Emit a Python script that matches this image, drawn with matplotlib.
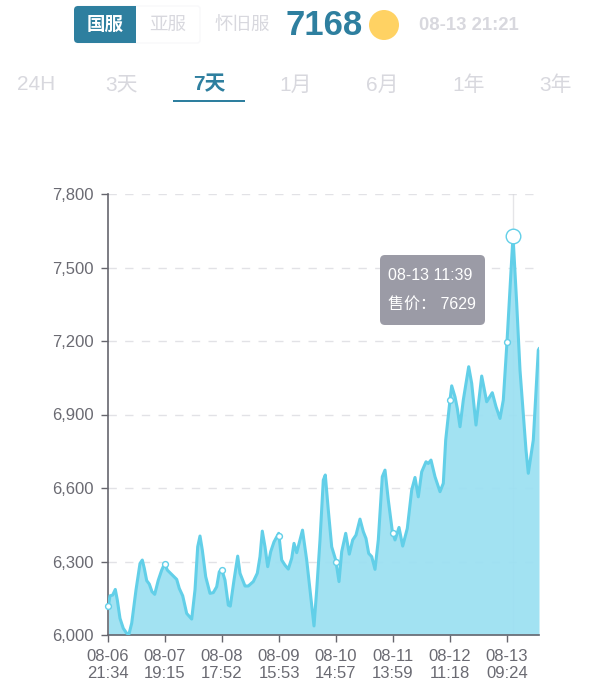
import numpy as np
import matplotlib
matplotlib.use('Agg')
import matplotlib.pyplot as plt
from matplotlib.patches import FancyBboxPatch, Ellipse, Rectangle

plt.rcParams['font.family'] = ['Liberation Sans', 'Noto Sans CJK SC']

# position along the time axis (57 units = one tick step)
pos = [0.3, 2, 4.7, 7.3, 9.3, 12, 15.3, 18.7, 21, 23.7, 28, 32, 34.3, 36.3, 38.7, 41.3, 44, 46.7,
       50.3, 53.7, 56.7, 59.3, 63.7, 68.7, 71.3, 74.7, 78.7, 83.7, 87, 89.7, 92, 94.3, 97.7, 102,
       105.3, 108.7, 111.3, 113.7, 117, 120.3, 122.3, 126, 129.7, 132, 137, 140.3, 145.3, 149.3,
       152, 154.3, 157, 159.7, 162.7, 166, 170.7, 173.7, 177, 180.3, 183.7, 186, 188.7, 194.5,
       198.7, 202, 206, 208.7, 212, 215.3, 217.3, 220.3, 223.7, 227.7, 231, 233.7, 237.7, 241.3,
       244.7, 248, 252, 255.3, 258, 260.7, 263.7, 267, 270.3, 274.3, 277, 280.3, 284.3, 287, 291,
       294.7, 299.3, 303.7, 307, 310.3, 313.7, 318, 320.3, 323, 327, 332, 335.3, 337.7, 342, 343.7,
       347, 349.3, 352, 355.3, 360.7, 363.7, 368, 373.7, 378.7, 384.3, 388, 392, 395.3, 399, 405,
       408.7, 412, 418, 420.3, 425.3, 430.3, 431]
price = [6118, 6160, 6163, 6186, 6143, 6068, 6027, 6007, 6004, 6048, 6184, 6292, 6306, 6272, 6222, 6208, 6177, 6166,
         6224, 6265, 6292, 6265, 6247, 6227, 6190, 6160, 6088, 6065, 6184, 6360, 6404, 6347, 6238, 6170,
         6173, 6197, 6258, 6268, 6224, 6122, 6118, 6224, 6322, 6252, 6200, 6200, 6218, 6252,
         6320, 6424, 6360, 6279, 6340, 6380, 6415, 6306, 6285, 6269, 6313, 6374, 6336, 6428,
         6306, 6184, 6037, 6184, 6388, 6632, 6653, 6510, 6360, 6306, 6218, 6340, 6415, 6330,
         6388, 6408, 6473, 6422, 6394, 6333, 6320, 6268, 6388, 6646, 6673, 6551, 6424, 6388, 6439,
         6363, 6435, 6592, 6643, 6564, 6666, 6707, 6700, 6714, 6646, 6585, 6619, 6796, 6959, 7017,
         6972, 6925, 6850, 6959, 7095, 7027, 6857, 7057, 6952, 6989, 6932, 6884, 6959, 7197, 7629,
         7353, 7081, 6755, 6660, 6796, 7163, 7168]

tick_pos = [0, 57, 114, 171, 228, 285, 342, 399]
tick_labels = ['08-06\n21:34', '08-07\n19:15', '08-08\n17:52', '08-09\n15:53',
               '08-10\n14:57', '08-11\n13:59', '08-12\n11:18', '08-13\n09:24']
y_ticks = [6000, 6300, 6600, 6900, 7200, 7500, 7800]
peak_pos = 405
peak_price = 7629

tabs = ['24H', '3天', '7天', '1月', '6月', '1年', '3年']
tab_x = [36, 122, 209, 296, 382, 469, 556]

W, H = 600, 682
LINE = '#62cfe8'
FILL = '#9be0f2'
TEAL = '#2e7f9f'
GREY = '#d8d8de'
AXC = '#66666e'

fig = plt.figure(figsize=(W / 100, H / 100), dpi=100)
ax = fig.add_axes([108 / W, (H - 635) / H, (539 - 108) / W, (635 - 194) / H])

# grid goes under a nearly solid fill, it only just shows through
for v in y_ticks[1:]:
    ax.axhline(v, color='#e2e2e6', lw=1, dashes=(6, 6), zorder=1)
ax.axvline(peak_pos, color='#d5d5da', lw=1, alpha=0.6, zorder=1)
ax.fill_between(pos, price, 6000, color=FILL, alpha=0.93, lw=0, zorder=2)
ax.plot(pos, price, color=LINE, lw=2.2, solid_joinstyle='round', zorder=3)
ax.set_xlim(0, 431)
ax.set_ylim(6000, 7800)

# small markers sit on the line at each x tick
ax.plot(tick_pos, np.interp(tick_pos, pos, price), 'o', ms=4.2, mfc='white',
        mec=LINE, mew=1, zorder=4, clip_on=False)
ax.plot([peak_pos], [peak_price], 'o', ms=10.5, mfc='white', mec=LINE, mew=1, zorder=5, clip_on=False)

ax.set_xticks(tick_pos)
ax.set_xticklabels(tick_labels, linespacing=1.15)
ax.set_yticks(y_ticks)
ax.set_yticklabels([f'{v:,}' for v in y_ticks])
ax.tick_params(axis='both', labelsize=12, labelcolor='#6a6a72', color=AXC, width=1, length=5, pad=5)
for s in ['top', 'right']:
    ax.spines[s].set_visible(False)
for s in ['left', 'bottom']:
    ax.spines[s].set_color(AXC)
    ax.spines[s].set_linewidth(1.2)

# overlay in pixel coordinates for the page header and tooltip
ui = fig.add_axes([0, 0, 1, 1], zorder=10)
ui.set_xlim(0, W)
ui.set_ylim(H, 0)
ui.axis('off')
ui.patch.set_alpha(0)

ui.add_patch(FancyBboxPatch((76, 6), 124, 37, boxstyle='round,pad=0,rounding_size=3', fc='white',
                            ec='#f8f8fa', lw=1))
ui.add_patch(FancyBboxPatch((74, 6), 62, 37, boxstyle='round,pad=0,rounding_size=4', fc=TEAL, ec='none'))
ui.add_patch(Rectangle((126, 6), 10, 37, fc=TEAL, ec='none'))
ui.text(105, 25, '国服', color='white', fontsize=13.3, fontweight='bold', ha='center', va='center')
ui.text(168, 25, '亚服', color=GREY, fontsize=13.3, ha='center', va='center')
ui.text(242, 25, '怀旧服', color=GREY, fontsize=13.3, ha='center', va='center')
ui.text(324, 25.5, '7168', color=TEAL, fontsize=25, fontweight='bold', ha='center', va='center')
ui.add_patch(Ellipse((384, 25), 30, 30, fc='#ffd263', ec='none'))
ui.text(469, 25, '08-13 21:21', color=GREY, fontsize=13.3, fontweight='bold', ha='center', va='center')

for name, x in zip(tabs, tab_x):
    active = name == '7天'
    ui.text(x, 85, name, color=TEAL if active else GREY, fontsize=15,
            fontweight='bold' if active else 'normal', ha='center', va='center')
ui.add_patch(Rectangle((173, 100), 72, 2.4, fc=TEAL, ec='none'))

ui.add_patch(FancyBboxPatch((380, 255), 105, 70, boxstyle='round,pad=0,rounding_size=5', fc='#9b9ba6', ec='none'))
ui.text(388, 276, '08-13 11:39', color='white', fontsize=11.5, ha='left', va='center')
ui.text(388, 304, '售价： 7629', color='white', fontsize=11.5, ha='left', va='center')

fig.savefig('out.png', dpi=100)
